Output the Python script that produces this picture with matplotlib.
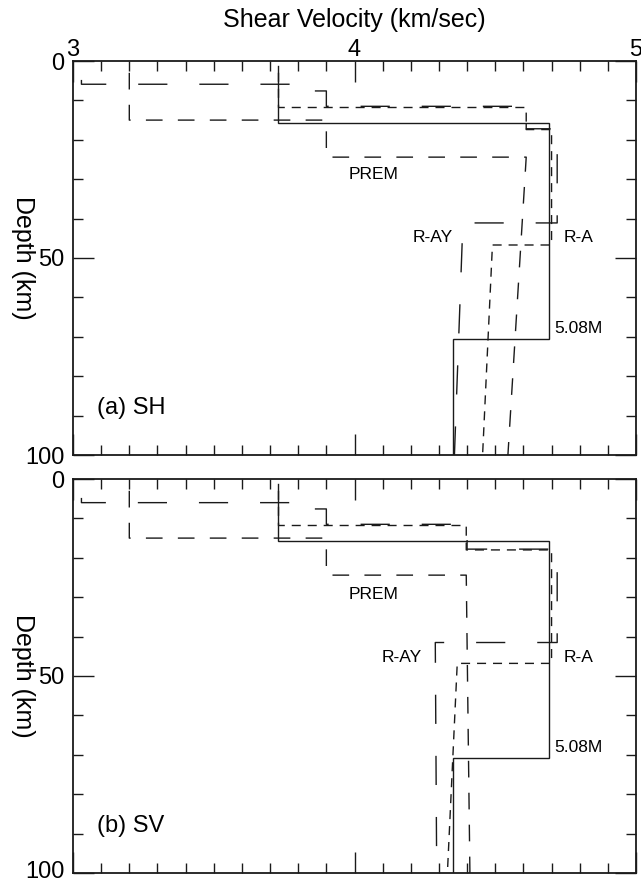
import matplotlib
matplotlib.use("Agg")
import matplotlib.pyplot as plt
import matplotlib.transforms as mtransforms
from matplotlib.ticker import MultipleLocator, FixedLocator

plt.rcParams['font.family'] = ['Liberation Sans', 'DejaVu Sans']

# ---------------- data: (a) SH ----------------
sh_m508_v = [3.73, 3.73, 4.69, 4.69, 4.35, 4.35]
sh_m508_d = [1.2, 15.7, 15.7, 70.6, 70.6, 100.0]

sh_prem_v = [3.20, 3.20, 3.90, 3.90, 4.61, 4.545]
sh_prem_d = [3.0, 15.0, 15.0, 24.4, 24.4, 100.0]

sh_ra_v = [3.73, 3.73, 4.61, 4.61, 4.70, 4.70, 4.49, 4.455]
sh_ra_d = [3.0, 11.8, 11.8, 17.4, 17.4, 46.7, 46.7, 100.0]

sh_ray_v = [3.03, 3.03, 3.80, 3.80, 3.90, 3.90, 4.61, 4.61, 4.72, 4.72, 4.385, 4.355]
sh_ray_d = [4.8, 5.9, 5.9, 7.6, 7.6, 11.5, 11.5, 17.2, 17.2, 41.1, 41.1, 100.0]

# ---------------- data: (b) SV ----------------
sv_m508_v = [3.73, 3.73, 4.69, 4.69, 4.35, 4.35]
sv_m508_d = [1.2, 15.7, 15.7, 70.9, 70.9, 100.0]

sv_prem_v = [3.20, 3.20, 3.90, 3.90, 4.397, 4.41]
sv_prem_d = [3.0, 15.0, 15.0, 24.4, 24.4, 100.0]

sv_ra_v = [3.73, 3.73, 4.397, 4.397, 4.70, 4.70, 4.365, 4.33]
sv_ra_d = [3.0, 11.8, 11.8, 18.0, 18.0, 46.8, 46.8, 100.0]

sv_ray_v = [3.03, 3.03, 3.80, 3.80, 3.90, 3.90, 4.40, 4.40, 4.72, 4.72, 4.287, 4.292]
sv_ray_d = [4.8, 6.0, 6.0, 7.6, 7.6, 11.5, 11.5, 17.8, 17.8, 41.5, 41.5, 100.0]

x_ticks = [3, 4, 5]
x_tick_labels = ["3", "4", "5"]
y_ticks = [0, 50, 100]
y_tick_labels = ["0", "50", "100"]

panels = [
    dict(m508=(sh_m508_v, sh_m508_d), prem=(sh_prem_v, sh_prem_d),
         ra=(sh_ra_v, sh_ra_d), ray=(sh_ray_v, sh_ray_d),
         title="(a) SH",
         lab_prem=(4.068, 28.8), lab_ray=(4.278, 44.9), lab_ra=(4.797, 44.9),
         lab_m=(4.711, 67.8)),
    dict(m508=(sv_m508_v, sv_m508_d), prem=(sv_prem_v, sv_prem_d),
         ra=(sv_ra_v, sv_ra_d), ray=(sv_ray_v, sv_ray_d),
         title="(b) SV",
         lab_prem=(4.068, 29.2), lab_ray=(4.167, 45.3), lab_ra=(4.797, 45.3),
         lab_m=(4.711, 68.1)),
]

W, H = 641, 883
fig = plt.figure(figsize=(W / 100, H / 100), dpi=100)
ax_top = fig.add_axes([73 / W, 1 - 455 / H, 563 / W, 394 / H])
ax_bot = fig.add_axes([73 / W, 1 - 873 / H, 563 / W, 394 / H])

lw = 1.0
col = "#1a1a1a"
for i, (ax, p) in enumerate(zip([ax_top, ax_bot], panels)):
    ax.plot(*p["m508"], color=col, lw=lw, solid_joinstyle="miter")
    ax.plot(*p["prem"], color=col, lw=lw, dashes=(12, 11))
    ax.plot(*p["ra"], color=col, lw=lw, dashes=(6.5, 5))
    ax.plot(*p["ray"], color=col, lw=lw, dashes=(21, 23))

    ax.set_xlim(3, 5)
    ax.set_ylim(100, 0)
    ax.xaxis.set_major_locator(FixedLocator(x_ticks))
    ax.xaxis.set_minor_locator(MultipleLocator(0.1))
    ax.yaxis.set_major_locator(FixedLocator(y_ticks))
    ax.yaxis.set_minor_locator(MultipleLocator(10))
    ax.set_yticklabels(y_tick_labels)
    ax.tick_params(which="both", direction="in", top=True, bottom=True,
                   left=True, right=True, width=1.0, color=col)
    ax.tick_params(which="major", length=15)
    ax.tick_params(which="minor", length=7)
    ax.tick_params(axis="y", labelsize=17, pad=6)
    for s in ax.spines.values():
        s.set_linewidth(1.3)
        s.set_color(col)

    ax.set_ylabel("Depth (km)", fontsize=18, rotation=270,
                  va="center", ha="center")
    ax.yaxis.set_label_coords(-50 / 563, 0.5)

    if i == 0:
        ax.xaxis.set_ticks_position("both")
        ax.tick_params(axis="x", labeltop=True, labelbottom=False,
                       labelsize=17, pad=0)
        ax.set_xticklabels(x_tick_labels)
        ax.set_xlabel("Shear Velocity (km/sec)", fontsize=18, labelpad=9)
        ax.xaxis.set_label_position("top")
    else:
        ax.tick_params(axis="x", labeltop=False, labelbottom=False)
        # keep the lowest "100" inside the figure edge
        lab = ax.get_yticklabels()[-1]
        lab.set_transform(lab.get_transform() +
                          mtransforms.ScaledTranslation(0, 4 / 100,
                                                        fig.dpi_scale_trans))

    ax.text(*p["lab_prem"], "PREM", fontsize=12.5, ha="center", va="center")
    ax.text(*p["lab_ray"], "R-AY", fontsize=12.5, ha="center", va="center")
    ax.text(*p["lab_ra"], "R-A", fontsize=12.5, ha="center", va="center")
    ax.text(*p["lab_m"], "5.08M", fontsize=12.5, ha="left", va="center")
    ax.text(3.085, 88.1, p["title"], fontsize=17, ha="left", va="center")

fig.savefig("out.png", dpi=100)
